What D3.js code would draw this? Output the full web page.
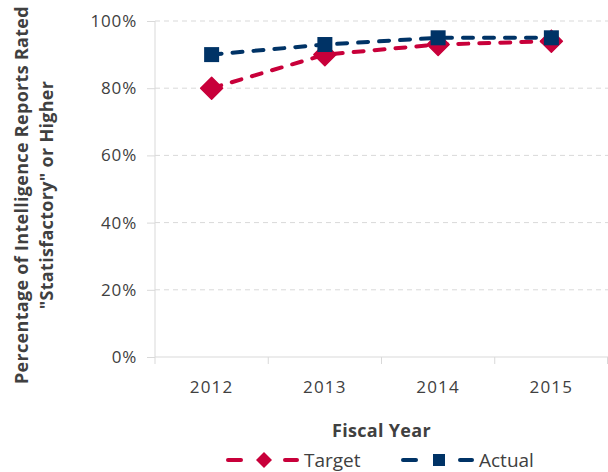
<!DOCTYPE html>
<html>
<head>
<meta charset="utf-8">
<script src="https://cdn.jsdelivr.net/npm/d3@7"></script>
<style>
  body { margin: 0; background: #fff; }
  svg { display: block; font-family: "Open Sans", sans-serif; }
</style>
</head>
<body>
<svg id="chart" width="608" height="472"></svg>
<script>
// data
var years = ["2012", "2013", "2014", "2015"];
var target = [80, 90, 93, 94];
var actual = [90, 93, 95, 95];
var yTicks = [0, 20, 40, 60, 80, 100];

var svg = d3.select("#chart"),
    width = +svg.attr("width"),
    height = +svg.attr("height"),
    marginLeft = 155,
    marginRight = 0,
    marginTop = 21,
    marginBottom = 115;

var red = "#c8003a", navy = "#003366", textCol = "#404040", gridCol = "#d9d9d9";

var x = d3.scaleBand()
  .domain(years)
  .range([marginLeft, width - marginRight]);

var y = d3.scaleLinear()
  .domain([0, 100])
  .range([height - marginBottom, marginTop]);

// gridlines
svg.append("g")
  .selectAll("line")
  .data(yTicks.filter(function(d) { return d > 0; }))
  .enter().append("line")
  .attr("x1", marginLeft)
  .attr("x2", width)
  .attr("y1", function(d) { return y(d); })
  .attr("y2", function(d) { return y(d); })
  .style("stroke", gridCol)
  .style("stroke-width", 1)
  .style("stroke-dasharray", "5,4");

// y axis
var yAxis = svg.append("g")
  .attr("transform", "translate(" + marginLeft + ",0)")
  .call(d3.axisLeft(y).tickValues(yTicks).tickFormat(function(d) { return d + "%"; }).tickSize(8).tickPadding(10));
yAxis.selectAll("line, path").style("stroke", gridCol);
yAxis.select(".domain").attr("d", "M0," + y(0) + "V" + y(100));
yAxis.selectAll("text")
  .style("font-family", "Open Sans")
  .style("font-size", "17px")
  .style("letter-spacing", "0.8px")
  .style("fill", textCol);

// x axis
var xAxis = svg.append("g")
  .attr("transform", "translate(0," + y(0) + ")")
  .call(d3.axisBottom(x).tickSize(0).tickPadding(24));
xAxis.select(".domain").style("stroke", gridCol).attr("d", "M" + marginLeft + ",0H" + width);
xAxis.selectAll("text")
  .style("font-family", "Open Sans")
  .style("font-size", "17px")
  .style("letter-spacing", "1.2px")
  .style("fill", textCol);

// x boundary ticks
var bounds = years.map(function(d) { return x(d); }).concat([x(years[years.length - 1]) + x.bandwidth()]);
xAxis.selectAll(".bound")
  .data(bounds)
  .enter().append("line")
  .attr("class", "bound")
  .attr("x1", function(d) { return Math.min(d, width - 0.5); })
  .attr("x2", function(d) { return Math.min(d, width - 0.5); })
  .attr("y1", 0)
  .attr("y2", 7)
  .style("stroke", gridCol);

// axis titles
svg.append("text")
  .attr("x", x(years[0]) + (width - marginLeft) / 2)
  .attr("y", 437)
  .attr("text-anchor", "middle")
  .style("font-family", "Open Sans")
  .style("font-weight", "bold")
  .style("font-size", "18px")
  .style("letter-spacing", "0.3px")
  .style("fill", textCol)
  .text("Fiscal Year");

var yTitle = svg.append("text")
  .attr("text-anchor", "middle")
  .attr("transform", "translate(0," + ((y(0) + y(100)) / 2 + 6) + ")rotate(-90)")
  .style("font-family", "Open Sans")
  .style("font-weight", "bold")
  .style("font-size", "18px")
  .style("letter-spacing", "0.3px")
  .style("fill", textCol);
yTitle.append("tspan").attr("x", 0).attr("y", 28).text("Percentage of Intelligence Reports Rated");
yTitle.append("tspan").attr("x", 0).attr("y", 53).text("\"Statisfactory\" or Higher");

// series
var series = [
  { name: "Target", values: target, color: red, symbol: "diamond" },
  { name: "Actual", values: actual, color: navy, symbol: "square" }
];

var line = d3.line()
  .x(function(d, i) { return x(years[i]) + x.bandwidth() / 2; })
  .y(function(d) { return y(d); });

function marker(sel, s) {
  if (s.symbol === "diamond") {
    sel.append("path")
      .attr("d", "M0,-11L11,0L0,11L-11,0Z")
      .style("fill", s.color)
      .style("stroke", s.color)
      .style("stroke-width", 1.5)
      .style("stroke-linejoin", "round");
  } else {
    sel.append("rect")
      .attr("x", -7.5).attr("y", -7.5)
      .attr("width", 15).attr("height", 15)
      .style("fill", s.color);
  }
}

series.forEach(function(s) {
  svg.append("path")
    .datum(s.values)
    .attr("d", line)
    .style("fill", "none")
    .style("stroke", s.color)
    .style("stroke-width", 4)
    .style("stroke-linecap", "round")
    .style("stroke-dasharray", "10,11");

  svg.append("g")
    .selectAll("g")
    .data(s.values)
    .enter().append("g")
    .attr("transform", function(d, i) { return "translate(" + (x(years[i]) + x.bandwidth() / 2) + "," + y(d) + ")"; })
    .each(function() { marker(d3.select(this), s); });
});

// legend
var legendX = [228, 403];
var leg = svg.append("g")
  .selectAll("g")
  .data(series)
  .enter().append("g")
  .attr("transform", function(d, i) { return "translate(" + legendX[i] + ",460)"; });
leg.append("line")
  .attr("x1", 0).attr("x2", 13)
  .style("stroke", function(d) { return d.color; })
  .style("stroke-width", 4)
  .style("stroke-linecap", "round");
leg.append("line")
  .attr("x1", 57).attr("x2", 69)
  .style("stroke", function(d) { return d.color; })
  .style("stroke-width", 4)
  .style("stroke-linecap", "round");
leg.append("g")
  .attr("transform", "translate(36,0)")
  .each(function(d) {
    var g = d3.select(this);
    if (d.symbol === "diamond") {
      g.append("path").attr("d", "M0,-8L8,0L0,8L-8,0Z").style("fill", d.color);
    } else {
      g.append("rect").attr("x", -6).attr("y", -6).attr("width", 12).attr("height", 12).style("fill", d.color);
    }
  });
leg.append("text")
  .attr("x", 76)
  .attr("y", 7)
  .style("font-family", "Open Sans")
  .style("font-size", "19px")
  .style("fill", textCol)
  .text(function(d) { return d.name; });
</script>
</body>
</html>
